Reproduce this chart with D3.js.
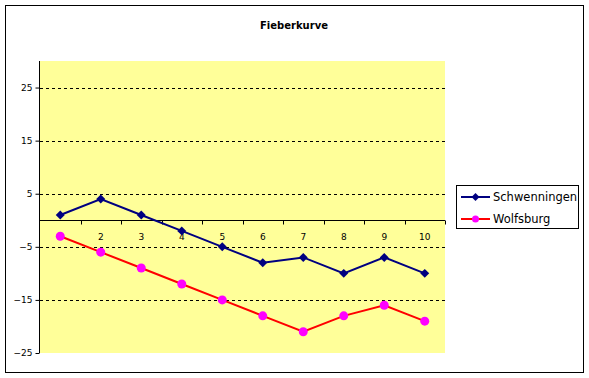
<!DOCTYPE html>
<html>
<head>
<meta charset="utf-8">
<script src="https://cdn.jsdelivr.net/npm/d3@7"></script>
<style>
  body { margin: 0; background: #fff; }
  svg { display: block; }
</style>
</head>
<body>
<svg id="chart"></svg>
<script>
const width = 589
const height = 378

// data
const categories = ['1', '2', '3', '4', '5', '6', '7', '8', '9', '10']
const schwenningen = [1, 4, 1, -2, -5, -8, -7, -10, -7, -10]
const wolfsburg = [-3, -6, -9, -12, -15, -18, -21, -18, -16, -19]
const yTicks = [-25, -15, -5, 5, 15, 25]
const seriesNames = ['Schwenningen', 'Wolfsburg']

const plot = { left: 40, right: 445, top: 61, bottom: 353 }
const font = 'DejaVu Sans, Verdana, sans-serif'

const svg = d3.select('#chart')
  .attr('width', width)
  .attr('height', height)

// outer frame
svg.append('rect')
  .attr('x', 5.5).attr('y', 5.5)
  .attr('width', 578).attr('height', 367)
  .attr('fill', '#fff')
  .attr('stroke', '#000')
  .attr('stroke-width', 1)

svg.append('text')
  .attr('x', 294).attr('y', 29)
  .attr('text-anchor', 'middle')
  .attr('font-family', font)
  .attr('font-size', '10px')
  .attr('font-weight', 'bold')
  .text('Fieberkurve')

const x = d3.scaleBand()
  .domain(categories)
  .range([plot.left, plot.right])

const y = d3.scaleLinear()
  .domain([-25, 30])
  .range([plot.bottom, plot.top])

// plot background
svg.append('rect')
  .attr('x', plot.left).attr('y', plot.top)
  .attr('width', plot.right - plot.left)
  .attr('height', plot.bottom - plot.top)
  .attr('fill', '#ffff99')

// dashed gridlines
svg.append('g')
  .selectAll('line')
  .data(yTicks.filter(d => d > -25))
  .enter()
  .append('line')
  .attr('x1', plot.left).attr('x2', plot.right)
  .attr('y1', d => Math.round(y(d)) + 0.5)
  .attr('y2', d => Math.round(y(d)) + 0.5)
  .attr('stroke', '#000')
  .attr('stroke-dasharray', '3,3')

// y axis
const yAxis = svg.append('g')
  .attr('transform', `translate(${plot.left - 0.5},0)`)
  .call(d3.axisLeft(y).tickValues(yTicks).tickSize(4).tickSizeOuter(0).tickPadding(3))
yAxis.select('.domain').attr('d', `M0,${plot.top}V${plot.bottom}`)
yAxis.selectAll('text')
  .attr('font-family', font)
  .attr('font-size', '9px')
  .attr('fill', '#000')

// x axis at zero, ticks on band boundaries
const xAxis = svg.append('g')
  .attr('transform', `translate(0,${Math.round(y(0)) + 0.5})`)
xAxis.append('line')
  .attr('x1', plot.left).attr('x2', plot.right)
  .attr('stroke', '#000')
xAxis.selectAll('.tick')
  .data(categories)
  .enter()
  .append('line')
  .attr('x1', d => Math.round(x(d) + x.bandwidth()) + 0.5)
  .attr('x2', d => Math.round(x(d) + x.bandwidth()) + 0.5)
  .attr('y1', 0).attr('y2', 4)
  .attr('stroke', '#000')
xAxis.selectAll('.lbl')
  .data(categories)
  .enter()
  .append('text')
  .attr('x', d => x(d) + x.bandwidth() / 2)
  .attr('y', 19)
  .attr('text-anchor', 'middle')
  .attr('font-family', font)
  .attr('font-size', '9px')
  .text(d => d)

const cx = i => x(categories[i]) + x.bandwidth() / 2
const line = d3.line()
  .x((d, i) => cx(i))
  .y(d => y(d))

const diamond = d3.symbol().type(d3.symbolDiamond).size(60)

function drawSeries (values, lineColor, markerColor, kind) {
  const g = svg.append('g')
  g.append('path')
    .datum(values)
    .attr('d', line)
    .attr('fill', 'none')
    .attr('stroke', lineColor)
    .attr('stroke-width', 2)
  if (kind === 'diamond') {
    g.selectAll('path.m')
      .data(values)
      .enter()
      .append('path')
      .attr('class', 'm')
      .attr('d', d3.symbol().type(d3.symbolSquare).size(40))
      .attr('transform', (d, i) => `translate(${cx(i)},${y(d)}) rotate(45)`)
      .attr('fill', markerColor)
  } else {
    g.selectAll('circle')
      .data(values)
      .enter()
      .append('circle')
      .attr('cx', (d, i) => cx(i))
      .attr('cy', d => y(d))
      .attr('r', 4.5)
      .attr('fill', markerColor)
  }
}

drawSeries(schwenningen, '#000080', '#000080', 'diamond')
drawSeries(wolfsburg, '#ff0000', '#ff00ff', 'circle')

// legend
const legend = svg.append('g')
legend.append('rect')
  .attr('x', 456.5).attr('y', 185.5)
  .attr('width', 122).attr('height', 43)
  .attr('fill', '#fff')
  .attr('stroke', '#000')

const legendStyles = [
  { line: '#000080', marker: '#000080', kind: 'diamond' },
  { line: '#ff0000', marker: '#ff00ff', kind: 'circle' }
]
seriesNames.forEach((name, i) => {
  const ly = 197 + i * 22
  const item = legend.append('g')
  item.append('line')
    .attr('x1', 461).attr('x2', 490)
    .attr('y1', ly).attr('y2', ly)
    .attr('stroke', legendStyles[i].line)
    .attr('stroke-width', 2)
  if (legendStyles[i].kind === 'diamond') {
    item.append('path')
      .attr('d', d3.symbol().type(d3.symbolSquare).size(32))
      .attr('transform', `translate(475.5,${ly}) rotate(45)`)
      .attr('fill', legendStyles[i].marker)
  } else {
    item.append('circle')
      .attr('cx', 475.5).attr('cy', ly).attr('r', 3.5)
      .attr('fill', legendStyles[i].marker)
  }
  item.append('text')
    .attr('x', 493).attr('y', ly)
    .attr('dy', '0.35em')
    .attr('font-family', font)
    .attr('font-size', '11.5px')
    .text(name)
})
</script>
</body>
</html>
